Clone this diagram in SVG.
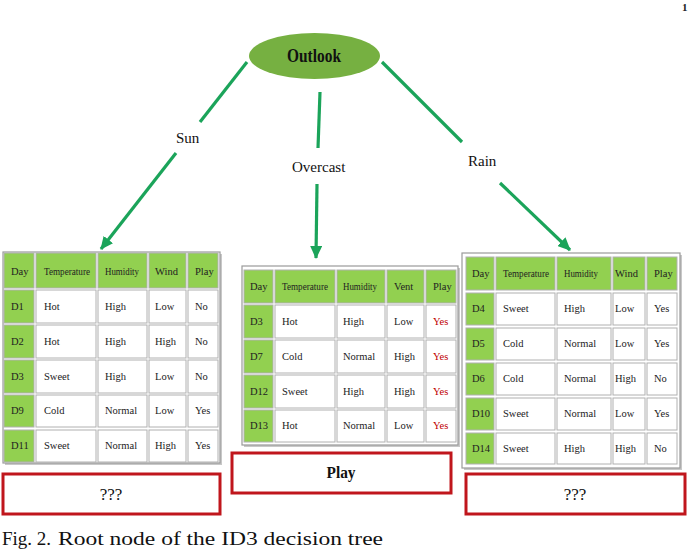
<svg xmlns="http://www.w3.org/2000/svg" width="690" height="550" viewBox="0 0 690 550">
<defs>
<marker id="ah" markerUnits="userSpaceOnUse" markerWidth="13" markerHeight="12" refX="12" refY="6" orient="auto">
<path d="M0,0 L13,6 L0,12 z" fill="#1ba45a"/>
</marker>
<style>
.edge{stroke:#1ba45a;stroke-width:3.2;fill:none}
.lbl{font-family:"Liberation Serif",serif;font-size:15px;fill:#111}
.tbl{fill:#fff;stroke:#9a9a9a;stroke-width:1.2}
.sh{fill:#c8c8c8}
.g{fill:#92d050;stroke:#b0b0b0;stroke-width:1}
.w{fill:#fff;stroke:#b0b0b0;stroke-width:1}
.t{font-family:"Liberation Serif",serif;font-size:10.5px;fill:#222}
.r{fill:#c00000}
.box{fill:#fff;stroke:#c0161c;stroke-width:3}
.bt{font-family:"Liberation Serif",serif;font-size:17px;fill:#111;text-anchor:middle}
.cap{font-family:"Liberation Serif",serif;font-size:19px;fill:#111}
</style>
</defs>
<rect width="690" height="550" fill="#fff"/>
<text x="682" y="11" style="font-family:'Liberation Serif',serif;font-size:11px;font-weight:bold;fill:#222">1</text>

<g id="outlook">
<ellipse cx="314.5" cy="56" rx="65.5" ry="23" fill="#76b041"/>
<text x="314" y="62" text-anchor="middle" textLength="54" lengthAdjust="spacingAndGlyphs" style="font-family:'Liberation Serif',serif;font-size:18px;font-weight:bold;fill:#111">Outlook</text>
</g>

<g id="connectors">
<line class="edge" x1="247" y1="62" x2="200" y2="122"/>
<line class="edge" x1="176" y1="153" x2="101" y2="249" marker-end="url(#ah)"/>
<line class="edge" x1="320" y1="92" x2="318" y2="148"/>
<line class="edge" x1="317" y1="184" x2="316" y2="258" marker-end="url(#ah)"/>
<line class="edge" x1="382" y1="62" x2="462" y2="142"/>
<line class="edge" x1="500" y1="183" x2="570" y2="250" marker-end="url(#ah)"/>
<text class="lbl" x="176" y="143">Sun</text>
<text class="lbl" x="292" y="172">Overcast</text>
<text class="lbl" x="468" y="166">Rain</text>
</g>

<g id="table-sun">
<rect class="sh" x="5" y="254" width="217" height="211"/>
<rect class="tbl" x="3" y="252" width="217" height="211"/>
<rect class="g" x="4" y="253" width="30" height="35"/><rect class="g" x="36" y="253" width="60" height="35"/><rect class="g" x="98" y="253" width="49" height="35"/><rect class="g" x="149" y="253" width="37" height="35"/><rect class="g" x="188" y="253" width="30" height="35"/>
<rect class="g" x="4" y="290" width="30" height="33"/><rect class="w" x="36" y="290" width="60" height="33"/><rect class="w" x="98" y="290" width="49" height="33"/><rect class="w" x="149" y="290" width="37" height="33"/><rect class="w" x="188" y="290" width="30" height="33"/>
<rect class="g" x="4" y="325" width="30" height="33"/><rect class="w" x="36" y="325" width="60" height="33"/><rect class="w" x="98" y="325" width="49" height="33"/><rect class="w" x="149" y="325" width="37" height="33"/><rect class="w" x="188" y="325" width="30" height="33"/>
<rect class="g" x="4" y="360" width="30" height="33"/><rect class="w" x="36" y="360" width="60" height="33"/><rect class="w" x="98" y="360" width="49" height="33"/><rect class="w" x="149" y="360" width="37" height="33"/><rect class="w" x="188" y="360" width="30" height="33"/>
<rect class="g" x="4" y="395" width="30" height="32"/><rect class="w" x="36" y="395" width="60" height="32"/><rect class="w" x="98" y="395" width="49" height="32"/><rect class="w" x="149" y="395" width="37" height="32"/><rect class="w" x="188" y="395" width="30" height="32"/>
<rect class="g" x="4" y="430" width="30" height="32"/><rect class="w" x="36" y="430" width="60" height="32"/><rect class="w" x="98" y="430" width="49" height="32"/><rect class="w" x="149" y="430" width="37" height="32"/><rect class="w" x="188" y="430" width="30" height="32"/>
<text class="t" x="11" y="275">Day</text><text class="t" x="44" y="275" textLength="46" lengthAdjust="spacingAndGlyphs">Temperature</text><text class="t" x="105" y="275" textLength="34" lengthAdjust="spacingAndGlyphs">Humidity</text><text class="t" x="155" y="275">Wind</text><text class="t" x="195" y="275">Play</text>
<text class="t" x="11" y="310">D1</text><text class="t" x="44" y="310">Hot</text><text class="t" x="105" y="310">High</text><text class="t" x="155" y="310">Low</text><text class="t" x="195" y="310">No</text>
<text class="t" x="11" y="345">D2</text><text class="t" x="44" y="345">Hot</text><text class="t" x="105" y="345">High</text><text class="t" x="155" y="345">High</text><text class="t" x="195" y="345">No</text>
<text class="t" x="11" y="380">D3</text><text class="t" x="44" y="380">Sweet</text><text class="t" x="105" y="380">High</text><text class="t" x="155" y="380">Low</text><text class="t" x="195" y="380">No</text>
<text class="t" x="11" y="414">D9</text><text class="t" x="44" y="414">Cold</text><text class="t" x="105" y="414">Normal</text><text class="t" x="155" y="414">Low</text><text class="t" x="195" y="414">Yes</text>
<text class="t" x="11" y="449">D11</text><text class="t" x="44" y="449">Sweet</text><text class="t" x="105" y="449">Normal</text><text class="t" x="155" y="449">High</text><text class="t" x="195" y="449">Yes</text>
</g>

<g id="table-overcast">
<rect class="sh" x="244" y="268" width="216" height="179"/>
<rect class="tbl" x="242" y="266" width="216" height="179"/>
<rect class="g" x="244" y="270" width="29" height="33"/><rect class="g" x="275" y="270" width="60" height="33"/><rect class="g" x="337" y="270" width="48" height="33"/><rect class="g" x="387" y="270" width="37" height="33"/><rect class="g" x="426" y="270" width="30" height="33"/>
<rect class="g" x="244" y="305" width="29" height="33"/><rect class="w" x="275" y="305" width="60" height="33"/><rect class="w" x="337" y="305" width="48" height="33"/><rect class="w" x="387" y="305" width="37" height="33"/><rect class="w" x="426" y="305" width="30" height="33"/>
<rect class="g" x="244" y="340" width="29" height="33"/><rect class="w" x="275" y="340" width="60" height="33"/><rect class="w" x="337" y="340" width="48" height="33"/><rect class="w" x="387" y="340" width="37" height="33"/><rect class="w" x="426" y="340" width="30" height="33"/>
<rect class="g" x="244" y="375" width="29" height="33"/><rect class="w" x="275" y="375" width="60" height="33"/><rect class="w" x="337" y="375" width="48" height="33"/><rect class="w" x="387" y="375" width="37" height="33"/><rect class="w" x="426" y="375" width="30" height="33"/>
<rect class="g" x="244" y="410" width="29" height="32"/><rect class="w" x="275" y="410" width="60" height="32"/><rect class="w" x="337" y="410" width="48" height="32"/><rect class="w" x="387" y="410" width="37" height="32"/><rect class="w" x="426" y="410" width="30" height="32"/>
<text class="t" x="250" y="290">Day</text><text class="t" x="282" y="290" textLength="46" lengthAdjust="spacingAndGlyphs">Temperature</text><text class="t" x="343" y="290" textLength="34" lengthAdjust="spacingAndGlyphs">Humidity</text><text class="t" x="394" y="290">Vent</text><text class="t" x="433" y="290">Play</text>
<text class="t" x="250" y="325">D3</text><text class="t" x="282" y="325">Hot</text><text class="t" x="343" y="325">High</text><text class="t" x="394" y="325">Low</text><text class="t r" x="433" y="325">Yes</text>
<text class="t" x="250" y="360">D7</text><text class="t" x="282" y="360">Cold</text><text class="t" x="343" y="360">Normal</text><text class="t" x="394" y="360">High</text><text class="t r" x="433" y="360">Yes</text>
<text class="t" x="250" y="395">D12</text><text class="t" x="282" y="395">Sweet</text><text class="t" x="343" y="395">High</text><text class="t" x="394" y="395">High</text><text class="t r" x="433" y="395">Yes</text>
<text class="t" x="250" y="429">D13</text><text class="t" x="282" y="429">Hot</text><text class="t" x="343" y="429">Normal</text><text class="t" x="394" y="429">Low</text><text class="t r" x="433" y="429">Yes</text>
</g>

<g id="table-rain">
<rect class="sh" x="464" y="255" width="218" height="215"/>
<rect class="tbl" x="462" y="253" width="218" height="215"/>
<rect class="g" x="466" y="257" width="28" height="33"/><rect class="g" x="496" y="257" width="59" height="33"/><rect class="g" x="557" y="257" width="54" height="33"/><rect class="g" x="613" y="257" width="32" height="33"/><rect class="g" x="647" y="257" width="30" height="33"/>
<rect class="g" x="466" y="293" width="28" height="32"/><rect class="w" x="496" y="293" width="59" height="32"/><rect class="w" x="557" y="293" width="54" height="32"/><rect class="w" x="613" y="293" width="32" height="32"/><rect class="w" x="647" y="293" width="30" height="32"/>
<rect class="g" x="466" y="328" width="28" height="32"/><rect class="w" x="496" y="328" width="59" height="32"/><rect class="w" x="557" y="328" width="54" height="32"/><rect class="w" x="613" y="328" width="32" height="32"/><rect class="w" x="647" y="328" width="30" height="32"/>
<rect class="g" x="466" y="363" width="28" height="32"/><rect class="w" x="496" y="363" width="59" height="32"/><rect class="w" x="557" y="363" width="54" height="32"/><rect class="w" x="613" y="363" width="32" height="32"/><rect class="w" x="647" y="363" width="30" height="32"/>
<rect class="g" x="466" y="398" width="28" height="32"/><rect class="w" x="496" y="398" width="59" height="32"/><rect class="w" x="557" y="398" width="54" height="32"/><rect class="w" x="613" y="398" width="32" height="32"/><rect class="w" x="647" y="398" width="30" height="32"/>
<rect class="g" x="466" y="433" width="28" height="31"/><rect class="w" x="496" y="433" width="59" height="31"/><rect class="w" x="557" y="433" width="54" height="31"/><rect class="w" x="613" y="433" width="32" height="31"/><rect class="w" x="647" y="433" width="30" height="31"/>
<text class="t" x="472" y="277">Day</text><text class="t" x="503" y="277" textLength="46" lengthAdjust="spacingAndGlyphs">Temperature</text><text class="t" x="564" y="277" textLength="34" lengthAdjust="spacingAndGlyphs">Humidity</text><text class="t" x="615" y="277">Wind</text><text class="t" x="654" y="277">Play</text>
<text class="t" x="472" y="312">D4</text><text class="t" x="503" y="312">Sweet</text><text class="t" x="564" y="312">High</text><text class="t" x="615" y="312">Low</text><text class="t" x="654" y="312">Yes</text>
<text class="t" x="472" y="347">D5</text><text class="t" x="503" y="347">Cold</text><text class="t" x="564" y="347">Normal</text><text class="t" x="615" y="347">Low</text><text class="t" x="654" y="347">Yes</text>
<text class="t" x="472" y="382">D6</text><text class="t" x="503" y="382">Cold</text><text class="t" x="564" y="382">Normal</text><text class="t" x="615" y="382">High</text><text class="t" x="654" y="382">No</text>
<text class="t" x="472" y="417">D10</text><text class="t" x="503" y="417">Sweet</text><text class="t" x="564" y="417">Normal</text><text class="t" x="615" y="417">Low</text><text class="t" x="654" y="417">Yes</text>
<text class="t" x="472" y="452">D14</text><text class="t" x="503" y="452">Sweet</text><text class="t" x="564" y="452">High</text><text class="t" x="615" y="452">High</text><text class="t" x="654" y="452">No</text>
</g>

<g id="result-sun">
<rect class="box" x="3" y="474" width="217" height="40"/>
<text class="bt" x="111" y="500">???</text>
</g>
<g id="result-overcast">
<rect class="box" x="232" y="453" width="219" height="40"/>
<text class="bt" x="341" y="478" font-weight="bold" textLength="29" lengthAdjust="spacingAndGlyphs">Play</text>
</g>
<g id="result-rain">
<rect class="box" x="466" y="474" width="219" height="40"/>
<text class="bt" x="575" y="500">???</text>
</g>

<text class="cap" x="2" y="545">Fig. 2.</text>
<text class="cap" x="58" y="545" textLength="325" lengthAdjust="spacingAndGlyphs">Root node of the ID3 decision tree</text>
</svg>
